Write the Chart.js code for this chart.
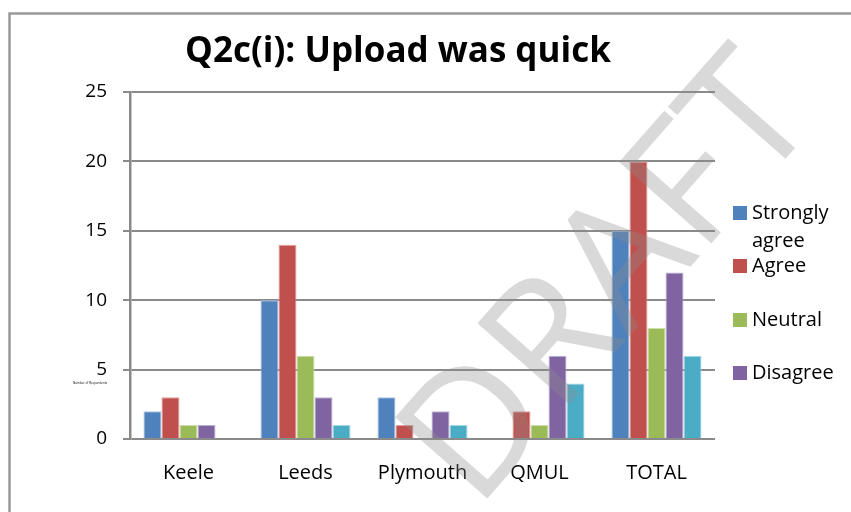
<!DOCTYPE html>
<html>
<head>
<meta charset="utf-8">
<script src="https://cdn.jsdelivr.net/npm/chart.js@4/dist/chart.umd.min.js"></script>
<style>
  html, body { margin: 0; padding: 0; background: #fff; }
  canvas { display: block; }
</style>
</head>
<body>
<canvas id="myChart" width="851" height="512"></canvas>
<script>
const categories = ['Keele', 'Leeds', 'Plymouth', 'QMUL', 'TOTAL'];
const stronglyAgree = [2, 10, 3, 0, 15];
const agree = [3, 14, 1, 2, 20];
const neutral = [1, 6, 0, 1, 8];
const disagree = [1, 3, 2, 6, 12];
const stronglyDisagree = [0, 1, 1, 4, 6];
const seriesNames = ['Strongly agree', 'Agree', 'Neutral', 'Disagree', 'Strongly disagree'];
const yMax = 25;
const yStep = 5;

const colors = ['#4F81BD', '#C0504D', '#9BBB59', '#8064A2', '#4BACC6'];
const edges = ['#a9c3e3', '#e2a09e', '#cde0ab', '#bcaed3', '#a6d8e6'];
const FONT = '"Open Sans", "Liberation Sans", sans-serif';

// frame, title, legend, watermark - drawn by hand
const decor = {
  id: 'decor',
  beforeDraw(chart) {
    const ctx = chart.ctx;
    ctx.save();
    ctx.strokeStyle = '#999';
    ctx.lineWidth = 2.5;
    ctx.beginPath();
    ctx.moveTo(9.5, 520);
    ctx.lineTo(9.5, 13.5);
    ctx.lineTo(860, 13.5);
    ctx.stroke();
    ctx.restore();
  },
  afterDraw(chart) {
    const ctx = chart.ctx;
    ctx.save();
    // title
    ctx.fillStyle = '#000';
    ctx.font = 'bold 35px ' + FONT;
    ctx.textAlign = 'center';
    ctx.textBaseline = 'middle';
    ctx.fillText('Q2c(i): Upload was quick', 398, 52);

    // tiny axis note
    ctx.font = '3px ' + FONT;
    ctx.textAlign = 'left';
    ctx.fillText('Number of Respondents', 73, 383);

    // legend (only four entries fit, like the original)
    ctx.font = '20px ' + FONT;
    ctx.textBaseline = 'middle';
    const ys = [213, 266, 320, 373];
    for (let i = 0; i < 4; i++) {
      ctx.fillStyle = colors[i];
      ctx.fillRect(733, ys[i] - 7, 14, 14);
      ctx.fillStyle = '#000';
      if (i === 0) {
        ctx.fillText('Strongly', 752, ys[i]);
        ctx.fillText('agree', 752, ys[i] + 28);
      } else {
        ctx.fillText(seriesNames[i], 752, ys[i]);
      }
    }

    // DRAFT watermark
    ctx.translate(612, 282);
    ctx.rotate(-0.85);
    ctx.font = '172px ' + FONT;
    ctx.textAlign = 'center';
    ctx.fillStyle = 'rgba(140,140,140,0.33)';
    ctx.fillText('DRAFT', 0, 0);
    ctx.restore();
  }
};

const series = [stronglyAgree, agree, neutral, disagree, stronglyDisagree];

new Chart(document.getElementById('myChart'), {
  type: 'bar',
  data: {
    labels: categories,
    datasets: series.map((d, i) => ({
      label: seriesNames[i],
      data: d,
      backgroundColor: colors[i],
      borderColor: edges[i],
      borderWidth: 1,
      categoryPercentage: 0.77,
      barPercentage: 1.0
    }))
  },
  options: {
    responsive: false,
    animation: false,
    devicePixelRatio: 1,
    layout: { padding: { left: 0, right: 136, top: 92, bottom: 0 } },
    plugins: {
      legend: { display: false },
      title: { display: false },
      tooltip: { enabled: false }
    },
    scales: {
      x: {
        grid: { display: false },
        border: { display: false },
        ticks: { color: '#000', font: { family: FONT, size: 20 }, padding: 14, maxRotation: 0 },
        afterFit(scale) { scale.height = 73; }
      },
      y: {
        min: 0,
        max: yMax,
        ticks: { stepSize: yStep, color: '#000', font: { family: FONT, size: 19 }, padding: 16 },
        grid: { color: '#8a8a8a', lineWidth: 2, tickLength: 7 },
        border: { color: '#8a8a8a', width: 2.5 },
        afterFit(scale) { scale.width = 130; }
      }
    }
  },
  plugins: [decor]
});
</script>
</body>
</html>
